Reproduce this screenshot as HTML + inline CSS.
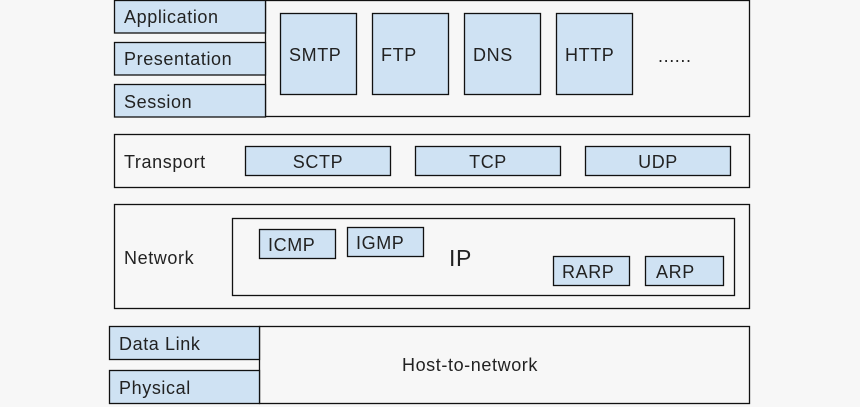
<!DOCTYPE html>
<html><head><style>
html,body{margin:0;padding:0;background:#f7f7f7;}
svg{display:block;}
text{font-family:"Liberation Sans",sans-serif;fill:#222;font-size:18px;letter-spacing:0.6px;}
</style></head><body>
<svg width="860" height="407" viewBox="0 0 860 407">
<g stroke="#111" stroke-width="1.3">
<rect x="265.5" y="0.5" width="484" height="116" fill="#f7f7f7"/>
<rect x="114.5" y="0.5" width="151" height="32.5" fill="#cfe2f3"/>
<rect x="114.5" y="42.5" width="151" height="32.5" fill="#cfe2f3"/>
<rect x="114.5" y="84.5" width="151" height="32.5" fill="#cfe2f3"/>
<rect x="280.5" y="13.5" width="76" height="81" fill="#cfe2f3"/>
<rect x="372.5" y="13.5" width="76" height="81" fill="#cfe2f3"/>
<rect x="464.5" y="13.5" width="76" height="81" fill="#cfe2f3"/>
<rect x="556.5" y="13.5" width="76" height="81" fill="#cfe2f3"/>
<rect x="114.5" y="134.5" width="635" height="53" fill="#f7f7f7"/>
<rect x="245.5" y="146.5" width="145" height="29" fill="#cfe2f3"/>
<rect x="415.5" y="146.5" width="145" height="29" fill="#cfe2f3"/>
<rect x="585.5" y="146.5" width="145" height="29" fill="#cfe2f3"/>
<rect x="114.5" y="204.5" width="635" height="104" fill="#f7f7f7"/>
<rect x="232.5" y="218.5" width="502" height="77" fill="#f7f7f7"/>
<rect x="259.5" y="229.5" width="76" height="29" fill="#cfe2f3"/>
<rect x="347.5" y="227.5" width="76" height="29" fill="#cfe2f3"/>
<rect x="553.5" y="256.5" width="76" height="29" fill="#cfe2f3"/>
<rect x="645.5" y="256.5" width="78" height="29" fill="#cfe2f3"/>
<rect x="259.5" y="326.5" width="490" height="77" fill="#f7f7f7"/>
<rect x="109.5" y="326.5" width="150" height="33" fill="#cfe2f3"/>
<rect x="109.5" y="370.5" width="150" height="33" fill="#cfe2f3"/>
</g>
<text x="124" y="23">Application</text>
<text x="124" y="65">Presentation</text>
<text x="124" y="108">Session</text>
<text x="289" y="61">SMTP</text>
<text x="381" y="61">FTP</text>
<text x="473" y="61">DNS</text>
<text x="565" y="61">HTTP</text>
<text x="658" y="62">......</text>
<text x="124" y="168">Transport</text>
<text x="318" y="168" text-anchor="middle">SCTP</text>
<text x="488" y="168" text-anchor="middle">TCP</text>
<text x="658" y="168" text-anchor="middle">UDP</text>
<text x="124" y="264">Network</text>
<text x="268" y="251">ICMP</text>
<text x="356" y="249">IGMP</text>
<text x="449" y="266" style="font-size:23px">IP</text>
<text x="562" y="278">RARP</text>
<text x="656" y="278">ARP</text>
<text x="119" y="350">Data Link</text>
<text x="119" y="394">Physical</text>
<text x="470" y="371" text-anchor="middle">Host-to-network</text>
</svg>
</body></html>
